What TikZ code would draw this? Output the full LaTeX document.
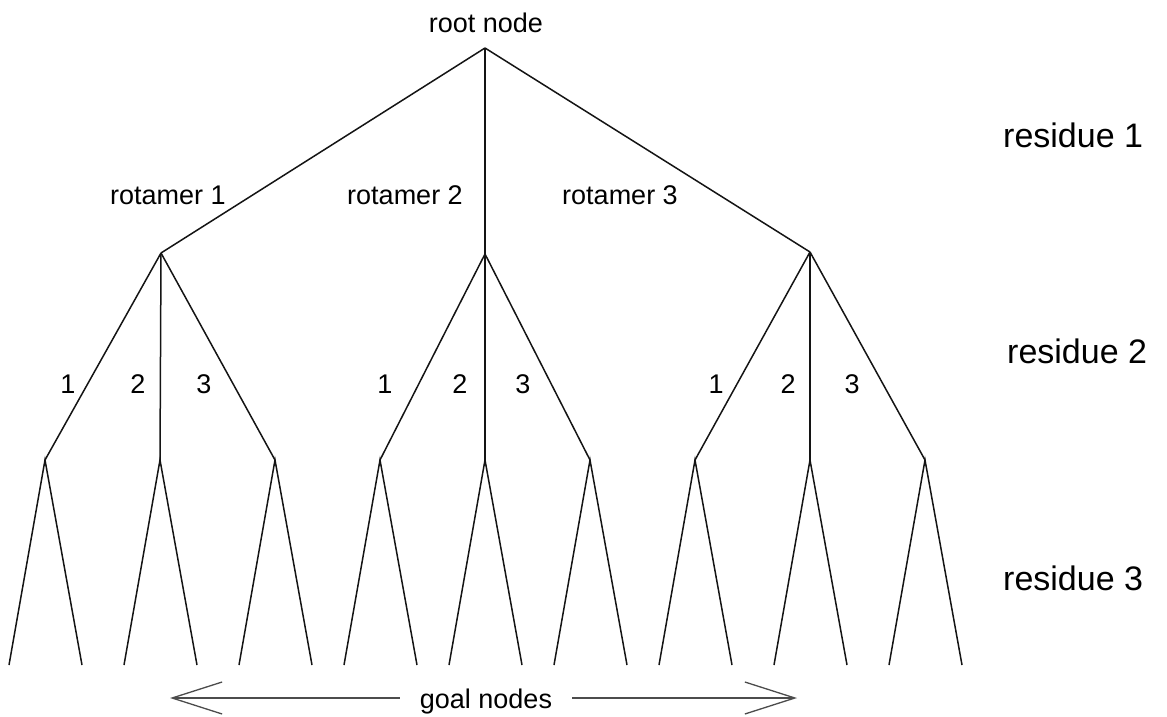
\documentclass[tikz,border=0pt]{standalone}
\usepackage{fontspec}
\setmainfont{Liberation Sans}
\usetikzlibrary{arrows.meta}
\begin{document}
\begin{tikzpicture}[x=1pt,y=-1pt,
  edge/.style={line width=1.5pt, draw=black!92},
  lbl/.style={font=\fontsize{27}{30}\selectfont, inner sep=0pt, anchor=base},
  res/.style={font=\fontsize{34}{37}\selectfont, inner sep=0pt, anchor=base west},
  goalarrow/.style={line width=1.3pt, draw=black!70, -{Straight Barb[length=50pt,width=32pt]}}]
\useasboundingbox (0,0) rectangle (1167,717);
% tree points
\coordinate (root) at (485,48);
\coordinate (a1) at (161,253);
\coordinate (a2) at (485,254);
\coordinate (a3) at (810,252);
\foreach \i/\x in {1/45,2/160,3/275,4/380,5/485,6/590,7/695,8/810,9/925}{
  \coordinate (b\i) at (\x,460);
  \coordinate (c\i l) at (\x-36,665);
  \coordinate (c\i r) at (\x+37,665);
  \draw[edge] (c\i l) -- (b\i) -- (c\i r);
}
\foreach \j in {1,2,3}{ \draw[edge] (root) -- (a\j); }
\foreach \j in {1,2,3}{ \draw[edge] (a1) -- (b\j); }
\foreach \j in {4,5,6}{ \draw[edge] (a2) -- (b\j); }
\foreach \j in {7,8,9}{ \draw[edge] (a3) -- (b\j); }
% labels
\node[lbl] (rootlbl) at (486,33) {root node};
\node[lbl, anchor=base west] (rot1) at (110,204) {rotamer 1};
\node[lbl] (rot2) at (405,204) {rotamer 2};
\node[lbl] (rot3) at (620,204) {rotamer 3};
\foreach \k/\x/\t in {1/68/1,2/138/2,3/204/3,4/385/1,5/460/2,6/523/3,7/716/1,8/788/2,9/852/3}{
  \node[lbl] (d\k) at (\x,393) {\t};
}
\node[res] (res1) at (1003,147) {residue 1};
\node[res] (res2) at (1007,363) {residue 2};
\node[res] (res3) at (1003,590) {residue 3};
% goal nodes
\node[lbl, inner xsep=20pt] (goal) at (486,708) {goal nodes};
\coordinate (gl) at (170,698);
\coordinate (gr) at (797,698);
\draw[goalarrow] (gl -| goal.west) -- (gl);
\draw[goalarrow] (gr -| goal.east) -- (gr);
\end{tikzpicture}
\end{document}
